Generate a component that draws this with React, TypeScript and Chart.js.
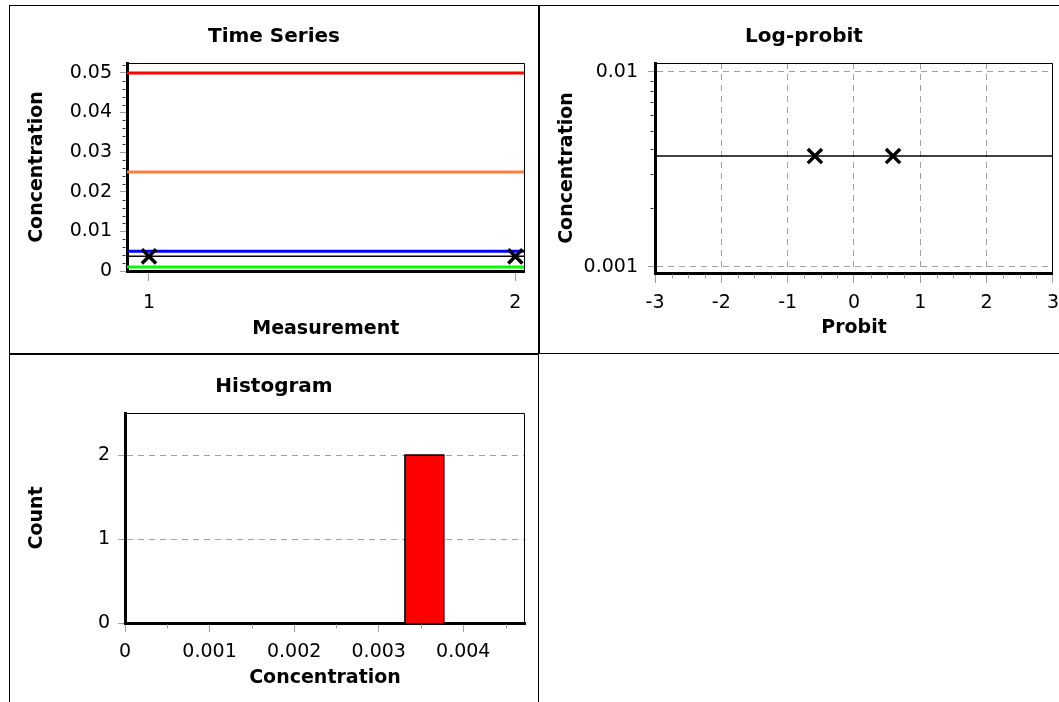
import React, { useEffect, useRef } from 'react';
import { Chart, registerables } from 'chart.js';

Chart.register(...registerables);

const FONT = '"DejaVu Sans", Verdana, sans-serif';

// ---------- Time Series ----------
const tsMeasurements = [1, 2];
const tsConcentrations = [0.0037, 0.0037];
const tsMeanLevel = 0.0037;
const tsRefLevels = [0.05, 0.025, 0.005, 0.001];
const tsRefColors = ['#ff0000', '#ff8040', '#0000ff', '#00ff00'];
const tsXRange = [0.94, 2.025];
const tsYRange = [0, 0.0525];
const tsXTicks = [1, 2];
const tsXTickLabels = ['1', '2'];
const tsYTicks = [0, 0.01, 0.02, 0.03, 0.04, 0.05];
const tsYTickLabels = ['0', '0.01', '0.02', '0.03', '0.04', '0.05'];
const tsYMinorStep = 0.002;

// ---------- Log-probit ----------
const lpProbits = [-0.589, 0.589];
const lpConcentrations = [0.0037, 0.0037];
const lpFitProbits = [-3, 3];
const lpFitConcentrations = [0.0037, 0.0037];
const lpXRange = [-3, 3];
const lpYRange = [0.00093, 0.0111];
const lpXTicks = [-3, -2, -1, 0, 1, 2, 3];
const lpXTickLabels = ['-3', '-2', '-1', '0', '1', '2', '3'];
const lpYTicks = [0.001, 0.01];
const lpYTickLabels = ['0.001', '0.01'];
const lpXMinorStep = 0.25;
const lpYMinorTicks = [0.002, 0.003, 0.004, 0.005, 0.006, 0.007, 0.008, 0.009];

// ---------- Histogram ----------
const histBinStart = [0.00331];
const histBinEnd = [0.00377];
const histCounts = [2];
const histXRange = [0, 0.00473];
const histYRange = [0, 2.5];
const histXTicks = [0, 0.001, 0.002, 0.003, 0.004];
const histXTickLabels = ['0', '0.001', '0.002', '0.003', '0.004'];
const histYTicks = [0, 1, 2];
const histYTickLabels = ['0', '1', '2'];
const histXMinorStep = 0.0005;

type Minor = { axis: 'x' | 'y'; values?: number[]; step?: number; length: number; color: string };

function framePlugin(minors: Minor[]) {
  return {
    id: 'frameMinor',
    afterDatasetsDraw(chart: any) {
      const { ctx, chartArea: a } = chart;
      ctx.save();
      ctx.strokeStyle = '#000';
      ctx.lineWidth = 1;
      ctx.beginPath();
      const t = Math.round(a.top) + 0.5;
      const r = Math.round(a.right) - 0.5;
      ctx.moveTo(a.left, t);
      ctx.lineTo(r, t);
      ctx.lineTo(r, a.bottom);
      ctx.stroke();
      for (const m of minors) {
        const scale = chart.scales[m.axis];
        let vals: number[] = [];
        if (m.values) vals = m.values;
        else if (m.step) {
          const k0 = Math.ceil(scale.min / m.step - 1e-6);
          const k1 = Math.floor(scale.max / m.step + 1e-6);
          for (let k = k0; k <= k1; k++) vals.push(k * m.step);
        }
        const majors = scale.ticks.map((tk: any) => tk.value);
        ctx.strokeStyle = m.color;
        ctx.lineWidth = 1;
        ctx.beginPath();
        for (const v of vals) {
          if (majors.some((mv: number) => Math.abs(mv - v) < Math.abs(m.step || v) * 1e-3)) continue;
          const p = Math.round(scale.getPixelForValue(v)) + 0.5;
          if (m.axis === 'y') {
            const x0 = a.left - 1.5;
            ctx.moveTo(x0 - m.length, p);
            ctx.lineTo(x0, p);
          } else {
            const y0 = a.bottom + 1.5;
            ctx.moveTo(p, y0);
            ctx.lineTo(p, y0 + m.length);
          }
        }
        ctx.stroke();
      }
      ctx.restore();
    },
  };
}

const tickFont = { family: FONT, size: 19 };
const labelFont = { family: FONT, size: 19, weight: 'bold' as const };
const titleFont = { family: FONT, size: 20, weight: 'bold' as const };
const GRID_GRAY = '#a0a0a0';

function axis(opts: {
  type?: string;
  range: number[];
  ticks: number[];
  labels: string[];
  fitSize: number;
  horizontal: boolean;
  title: string;
  titlePad: { top: number; bottom: number };
  tickLength: number;
  tickPad: number;
  grid: boolean;
}) {
  return {
    type: opts.type || 'linear',
    position: opts.horizontal ? 'bottom' : 'left',
    min: opts.range[0],
    max: opts.range[1],
    bounds: 'data',
    afterBuildTicks: (s: any) => {
      s.ticks = opts.ticks.map((v) => ({ value: v }));
    },
    afterFit: (s: any) => {
      if (opts.horizontal) s.height = opts.fitSize;
      else s.width = opts.fitSize;
    },
    ticks: {
      autoSkip: false,
      maxRotation: 0,
      minRotation: 0,
      color: '#000',
      font: tickFont,
      padding: opts.tickPad,
      callback: (_v: any, i: number) => opts.labels[i],
    },
    grid: {
      display: true,
      drawOnChartArea: opts.grid,
      drawTicks: true,
      tickLength: opts.tickLength,
      tickColor: GRID_GRAY,
      tickWidth: 1,
      color: GRID_GRAY,
      lineWidth: 1,
      tickBorderDash: [],
    },
    border: { display: true, color: '#000', width: 3, dash: [6, 5] },
    title: {
      display: true,
      text: opts.title,
      color: '#000',
      font: labelFont,
      padding: opts.titlePad,
    },
  };
}

function baseOptions(title: string, titlePad: { top: number; bottom: number }, scales: any) {
  return {
    responsive: false,
    animation: false,
    devicePixelRatio: 1,
    events: [],
    layout: { padding: { left: 13, right: 13, top: 0, bottom: 0 } },
    plugins: {
      legend: { display: false },
      tooltip: { enabled: false },
      title: { display: true, text: title, color: '#000', font: titleFont, padding: titlePad },
    },
    scales,
  };
}

const markerStyle = {
  showLine: false,
  pointStyle: 'crossRot',
  pointRadius: 10,
  pointBorderWidth: 3.5,
  pointBorderColor: '#000',
  borderColor: '#000',
};

function timeSeriesConfig() {
  const datasets: any[] = [
    {
      data: tsMeasurements.map((m, i) => ({ x: m, y: tsConcentrations[i] })),
      ...markerStyle,
    },
    {
      data: [
        { x: tsXRange[0], y: tsMeanLevel },
        { x: tsXRange[1], y: tsMeanLevel },
      ],
      showLine: true,
      borderColor: '#000',
      borderWidth: 1.5,
      pointRadius: 0,
    },
    ...tsRefLevels.map((lv, i) => ({
      data: [
        { x: tsXRange[0], y: lv },
        { x: tsXRange[1], y: lv },
      ],
      showLine: true,
      borderColor: tsRefColors[i],
      borderWidth: 3,
      pointRadius: 0,
    })),
  ];
  return {
    type: 'line',
    data: { datasets },
    options: baseOptions('Time Series', { top: 19, bottom: 14 }, {
      x: axis({
        range: tsXRange, ticks: tsXTicks, labels: tsXTickLabels, fitSize: 82, horizontal: true,
        title: 'Measurement', titlePad: { top: 0, bottom: 13 }, tickLength: 10, tickPad: 11, grid: false,
      }),
      y: axis({
        range: tsYRange, ticks: tsYTicks, labels: tsYTickLabels, fitSize: 104, horizontal: false,
        title: 'Concentration', titlePad: { top: 3, bottom: 0 }, tickLength: 7, tickPad: 8, grid: false,
      }),
    }),
    plugins: [framePlugin([{ axis: 'y', step: tsYMinorStep, length: 3, color: '#333' }])],
  };
}

function logProbitConfig() {
  const datasets: any[] = [
    {
      data: lpProbits.map((p, i) => ({ x: p, y: lpConcentrations[i] })),
      ...markerStyle,
    },
    {
      data: lpFitProbits.map((p, i) => ({ x: p, y: lpFitConcentrations[i] })),
      showLine: true,
      borderColor: '#000',
      borderWidth: 1.5,
      pointRadius: 0,
    },
  ];
  return {
    type: 'line',
    data: { datasets },
    options: baseOptions('Log-probit', { top: 19, bottom: 14 }, {
      x: axis({
        range: lpXRange, ticks: lpXTicks, labels: lpXTickLabels, fitSize: 80, horizontal: true,
        title: 'Probit', titlePad: { top: 0, bottom: 14 }, tickLength: 10, tickPad: 9, grid: true,
      }),
      y: axis({
        type: 'logarithmic',
        range: lpYRange, ticks: lpYTicks, labels: lpYTickLabels, fitSize: 102, horizontal: false,
        title: 'Concentration', titlePad: { top: 3, bottom: 0 }, tickLength: 7, tickPad: 10, grid: true,
      }),
    }),
    plugins: [
      framePlugin([
        { axis: 'x', step: lpXMinorStep, length: 4, color: GRID_GRAY },
        { axis: 'y', values: lpYMinorTicks, length: 3, color: '#333' },
      ]),
    ],
  };
}

function histogramConfig() {
  const datasets: any[] = histCounts.map((c, i) => ({
    data: [
      { x: histBinStart[i], y: 0 },
      { x: histBinStart[i], y: c },
      { x: histBinEnd[i], y: c },
      { x: histBinEnd[i], y: 0 },
    ],
    showLine: true,
    fill: 'origin',
    backgroundColor: '#ff0000',
    borderColor: '#000',
    borderWidth: 1.5,
    pointRadius: 0,
    tension: 0,
  }));
  return {
    type: 'line',
    data: { datasets },
    options: baseOptions('Histogram', { top: 20, bottom: 14 }, {
      x: axis({
        range: histXRange, ticks: histXTicks, labels: histXTickLabels, fitSize: 79, horizontal: true,
        title: 'Concentration', titlePad: { top: 0, bottom: 13 }, tickLength: 9, tickPad: 9, grid: false,
      }),
      y: axis({
        range: histYRange, ticks: histYTicks, labels: histYTickLabels, fitSize: 102, horizontal: false,
        title: 'Count', titlePad: { top: 3, bottom: 0 }, tickLength: 7, tickPad: 8, grid: true,
      }),
    }),
    plugins: [framePlugin([{ axis: 'x', step: histXMinorStep, length: 4, color: GRID_GRAY }])],
  };
}

function Panel(props: { left: number; top: number; width: number; height: number; make: () => any }) {
  const ref = useRef<HTMLCanvasElement | null>(null);
  const cw = props.width - 2;
  const ch = 347;
  useEffect(() => {
    if (!ref.current) return;
    const chart = new Chart(ref.current, props.make());
    return () => chart.destroy();
  }, []);
  return (
    <div
      style={{
        position: 'absolute',
        left: props.left,
        top: props.top,
        width: props.width,
        height: props.height,
        boxSizing: 'border-box',
        border: '1px solid #000',
        background: '#fff',
        overflow: 'hidden',
      }}
    >
      <canvas
        ref={ref}
        width={cw}
        height={ch}
        style={{ position: 'absolute', left: 0, top: 0, width: cw, height: ch, display: 'block' }}
      />
    </div>
  );
}

export default function App() {
  return (
    <div
      style={{
        position: 'absolute',
        left: 0,
        top: 0,
        width: 1059,
        height: 702,
        overflow: 'hidden',
        background: '#fff',
      }}
    >
      <Panel left={9} top={5} width={530} height={349} make={timeSeriesConfig} />
      <Panel left={539} top={5} width={530} height={349} make={logProbitConfig} />
      <Panel left={9} top={354} width={530} height={400} make={histogramConfig} />
    </div>
  );
}
